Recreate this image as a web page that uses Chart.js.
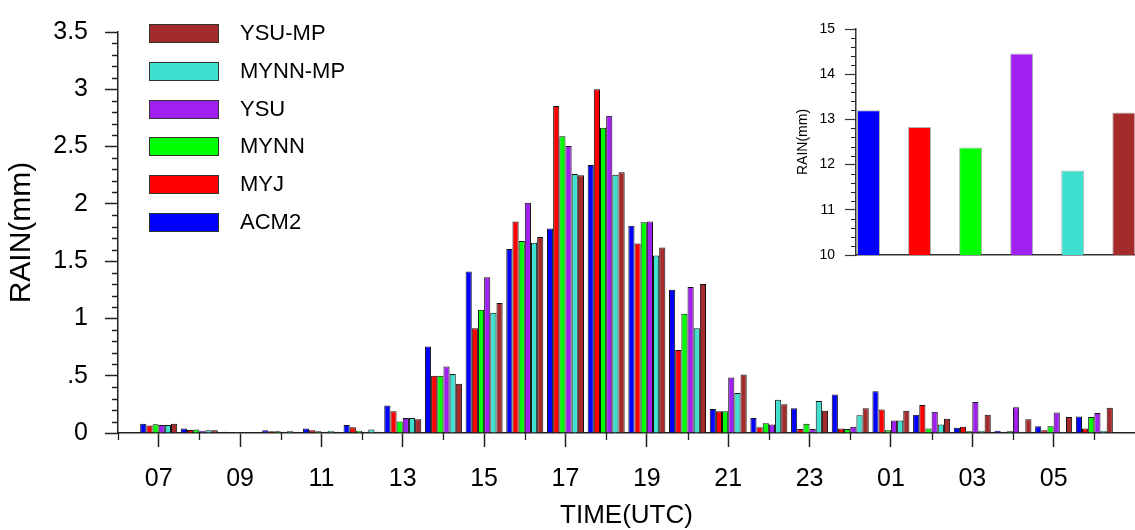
<!DOCTYPE html>
<html>
<head>
<meta charset="utf-8">
<script src="https://cdn.jsdelivr.net/npm/chart.js@4"></script>
<style>
  body { margin: 0; background: #fff; }
  #wrap { position: relative; width: 1135px; height: 530px; font-family: "Liberation Sans", Arial, sans-serif; }
  #mainChart { position: absolute; left: 0; top: 0; }
  #insetChart { position: absolute; left: 780px; top: 0; }
  #legend { position: absolute; left: 149px; top: 0; }
  .item { position: absolute; left: 0; width: 300px; height: 20px; }
  .box { position: absolute; left: 0; top: 0; width: 68px; height: 17px; border: 1px solid #333; }
  .lbl { position: absolute; left: 91px; top: -2px; font-size: 22px; line-height: 22px; color: #000; white-space: nowrap; }
</style>
</head>
<body>
<div id="wrap">
  <canvas id="mainChart" width="1135" height="530"></canvas>
  <canvas id="insetChart" width="355" height="280"></canvas>
  <div id="legend"></div>
</div>
<script>
// hourly rain per run, 07 UTC to 06 UTC next day
const hourLabels = ['07','08','09','10','11','12','13','14','15','16','17','18',
                    '19','20','21','22','23','00','01','02','03','04','05','06'];
const seriesNames = ['ACM2', 'MYJ', 'MYNN', 'YSU', 'MYNN-MP', 'YSU-MP'];
const seriesColors = ['#0000ff', '#ff0000', '#00ff00', '#a020f0', '#40e0d0', '#a52a2a'];

const acm2   = [0.08, 0.04, 0.01, 0.025, 0.04, 0.07, 0.24, 0.755, 1.41, 1.605, 1.785, 2.34,
                1.81, 1.25, 0.21, 0.13, 0.215, 0.335, 0.365, 0.16, 0.045, 0.02, 0.06, 0.145];
const myj    = [0.065, 0.026, 0.008, 0.015, 0.025, 0.05, 0.19, 0.50, 0.915, 1.845, 2.855, 3.0,
                1.655, 0.725, 0.19, 0.05, 0.035, 0.04, 0.205, 0.245, 0.055, 0.01, 0.025, 0.04];
const mynn   = [0.077, 0.03, 0.008, 0.015, 0.015, 0.02, 0.10, 0.50, 1.075, 1.675, 2.59, 2.665,
                1.84, 1.04, 0.19, 0.085, 0.08, 0.035, 0.025, 0.04, 0.015, 0.015, 0.06, 0.14];
const ysu    = [0.07, 0.02, 0.006, 0.01, 0.01, 0.01, 0.13, 0.58, 1.36, 2.01, 2.505, 2.77,
                1.845, 1.275, 0.485, 0.075, 0.035, 0.055, 0.11, 0.185, 0.27, 0.225, 0.18, 0.175];
const mynnMp = [0.07, 0.025, 0.006, 0.015, 0.02, 0.03, 0.13, 0.515, 1.05, 1.66, 2.26, 2.255,
                1.55, 0.915, 0.35, 0.29, 0.28, 0.155, 0.11, 0.075, 0.02, 0.01, 0.01, 0.02];
const ysuMp  = [0.08, 0.025, 0.006, 0.01, 0.01, 0.01, 0.12, 0.43, 1.135, 1.71, 2.25, 2.275,
                1.62, 1.30, 0.51, 0.25, 0.195, 0.215, 0.195, 0.125, 0.16, 0.12, 0.14, 0.22];

const yTickLabels = ['0', '.5', '1', '1.5', '2', '2.5', '3', '3.5'];

// inset: accumulated rain per run
const totalRain = [13.2, 12.83, 12.38, 14.46, 11.87, 13.15];
const insetTickLabels = ['10', '11', '12', '13', '14', '15'];

const allSeries = [acm2, myj, mynn, ysu, mynnMp, ysuMp];

Chart.defaults.font.family = '"Liberation Sans", Arial, sans-serif';
Chart.defaults.color = '#000';

// chart.js has no minor ticks, draw them from the scales
const minorTicks = {
  id: 'minorTicks',
  afterDraw(chart, args, opts) {
    const ctx = chart.ctx;
    const x = chart.scales.x, y = chart.scales.y;
    ctx.save();
    ctx.strokeStyle = '#222';
    ctx.lineWidth = opts.width || 1.2;
    ctx.beginPath();
    (opts.xMinor || []).forEach(v => {
      const px = Math.round(x.getPixelForValue(v)) + 0.5;
      ctx.moveTo(px, x.top);
      ctx.lineTo(px, x.top + opts.xLen);
    });
    (opts.yMinor || []).forEach(v => {
      const py = Math.round(y.getPixelForValue(v)) + 0.5;
      ctx.moveTo(y.right, py);
      ctx.lineTo(y.right - opts.yLen, py);
    });
    ctx.stroke();
    ctx.restore();
  }
};

const xMinor = [];
for (let i = -1; i < hourLabels.length; i += 2) xMinor.push(i);
const yMinor = [];
for (let k = 1; k < 35; k++) if (k % 5) yMinor.push(k / 10);

new Chart(document.getElementById('mainChart'), {
  type: 'bar',
  data: {
    datasets: allSeries.map((vals, s) => ({
      label: seriesNames[s],
      data: vals.map((v, i) => ({ x: i, y: v })),
      backgroundColor: seriesColors[s],
      borderColor: '#111',
      borderWidth: 1,
      barPercentage: 1,
      categoryPercentage: 0.91
    }))
  },
  options: {
    responsive: false,
    animation: false,
    layout: { padding: { top: 24, right: 0, left: 0, bottom: 0 } },
    plugins: {
      legend: { display: false },
      tooltip: { enabled: false },
      minorTicks: { xMinor: xMinor, yMinor: yMinor, xLen: 7, yLen: 6, width: 1.3 }
    },
    scales: {
      x: {
        type: 'linear', min: -1, max: 24, offset: false,
        grid: {
          offset: false, drawOnChartArea: false, tickLength: 14, tickWidth: 1.5,
          tickColor: c => (c.tick && c.tick.value >= 0 && c.tick.value < 23 && c.tick.value % 2 === 0)
            ? '#222' : 'rgba(0,0,0,0)'
        },
        border: { color: '#222', width: 1.5 },
        ticks: {
          stepSize: 1, autoSkip: false, maxRotation: 0, padding: 17, font: { size: 25 },
          callback: v => (v >= 0 && v % 2 === 0 && v < hourLabels.length) ? hourLabels[v] : ''
        },
        title: { display: true, text: 'TIME(UTC)', font: { size: 26, lineHeight: 1 }, padding: { top: 0, bottom: 1 } },
        afterFit: s => { s.height = 97; s.paddingLeft = 0; s.paddingRight = 0; }
      },
      y: {
        min: 0, max: 3.5,
        grid: { drawOnChartArea: false, tickLength: 13, tickWidth: 1.5, tickColor: '#222' },
        border: { color: '#222', width: 1.5 },
        ticks: { stepSize: 0.5, padding: 17, font: { size: 25 }, callback: v => yTickLabels[Math.round(v * 2)] },
        title: { display: true, text: 'RAIN(mm)', font: { size: 30, lineHeight: 1 }, padding: { top: 7, bottom: 0 } },
        afterFit: s => { s.width = 118; }
      }
    }
  },
  plugins: [minorTicks]
});

const insetMinor = [];
for (let k = 1; k < 25; k++) if (k % 5) insetMinor.push(10 + k / 5);

new Chart(document.getElementById('insetChart'), {
  type: 'bar',
  data: {
    datasets: [{
      data: totalRain.map((v, i) => ({ x: i, y: v })),
      backgroundColor: seriesColors,
      borderColor: 'rgba(0,0,0,0.3)',
      borderWidth: 1,
      barPercentage: 0.45,
      categoryPercentage: 1
    }]
  },
  options: {
    responsive: false,
    animation: false,
    layout: { padding: { top: 29, right: 0, left: 0, bottom: 0 } },
    plugins: {
      legend: { display: false },
      tooltip: { enabled: false },
      minorTicks: { yMinor: insetMinor, yLen: 5, width: 1 }
    },
    scales: {
      x: {
        type: 'linear', min: -0.245, max: 5.22, offset: false,
        grid: { display: false, offset: false },
        ticks: { display: false },
        border: { color: '#333', width: 1.5 },
        afterFit: s => { s.height = 25; s.paddingLeft = 0; s.paddingRight = 0; }
      },
      y: {
        min: 10, max: 15,
        grid: { drawOnChartArea: false, tickLength: 11, tickWidth: 1.2, tickColor: '#333' },
        border: { color: '#333', width: 1.5 },
        ticks: { stepSize: 1, padding: 10, font: { size: 14 }, callback: v => insetTickLabels[Math.round(v - 10)] },
        title: { display: true, text: 'RAIN(mm)', font: { size: 14, lineHeight: 1 }, padding: { top: 16, bottom: 0 } },
        afterFit: s => { s.width = 76; }
      }
    }
  },
  plugins: [minorTicks]
});

// legend, top entry is the last run
const legend = document.getElementById('legend');
seriesNames.slice().reverse().forEach((name, k) => {
  const color = seriesColors[seriesNames.length - 1 - k];
  const item = document.createElement('div');
  item.className = 'item';
  item.style.top = (24 + k * 37.8) + 'px';
  item.innerHTML = '<div class="box" style="background:' + color + '"></div><div class="lbl">' + name + '</div>';
  legend.appendChild(item);
});
</script>
</body>
</html>
